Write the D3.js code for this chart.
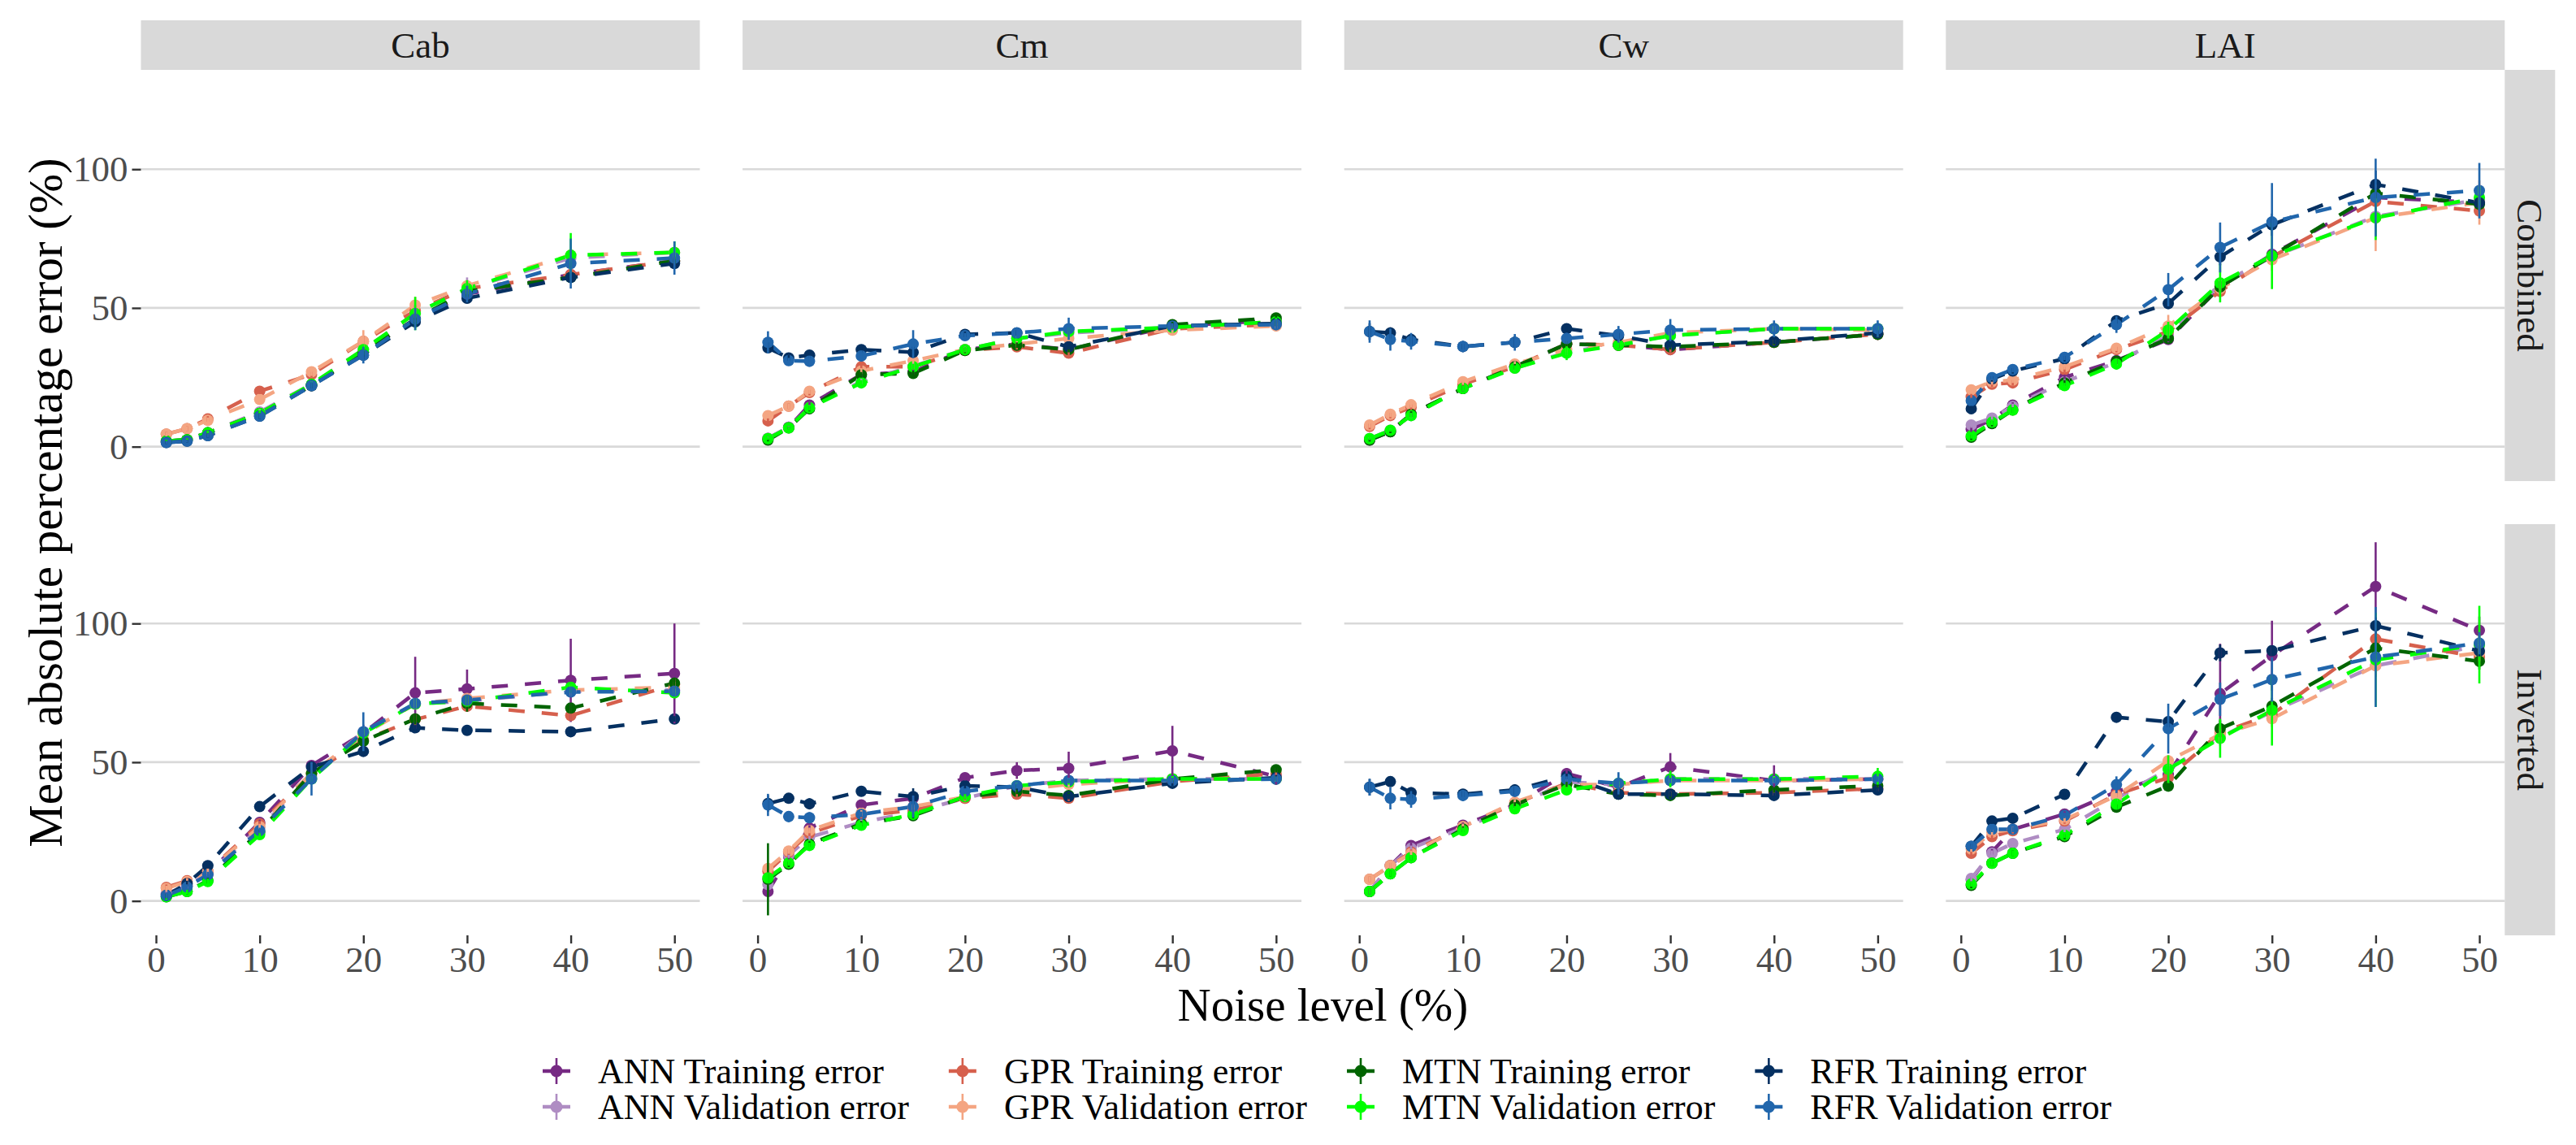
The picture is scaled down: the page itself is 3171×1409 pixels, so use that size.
<!DOCTYPE html>
<html>
<head>
<meta charset="utf-8">
<script src="https://cdn.jsdelivr.net/npm/d3@7"></script>
<style>
  body { margin: 0; background: #ffffff; }
  text { font-family: "Liberation Serif", "Times New Roman", serif; }
</style>
</head>
<body>
<div id="chart"></div>
<script>
// ---- Data ----
var noiseLevels = [1, 3, 5, 10, 15, 20, 25, 30, 40, 50];
var variables = ["Cab", "Cm", "Cw", "LAI"];
var modes = ["Combined", "Inverted"];
var seriesNames = [
  "ANN Training error", "ANN Validation error",
  "GPR Training error", "GPR Validation error",
  "MTN Training error", "MTN Validation error",
  "RFR Training error", "RFR Validation error"
];
var seriesColors = ["#762A83", "#AF8DC3", "#D6604D", "#F4A582",
                    "#006400", "#00FF00", "#053061", "#2166AC"];
var xTicks = [0, 10, 20, 30, 40, 50];
var yTicks = [0, 50, 100];

// rows follow seriesNames order, columns follow noiseLevels
var cabCombinedMean = [
  [2, 2.5, 5, 12, 22, 34, 46, 55, 62, 67],
  [2, 2.5, 5, 12.5, 22.5, 35, 48, 57, 68, 70],
  [4.5, 6.5, 10, 20, 26, 38, 49, 57, 62, 67],
  [4.5, 6.5, 9.5, 17, 27, 38, 51, 58, 69, 70],
  [2, 2.5, 5, 12, 22, 34, 46, 56, 61, 67],
  [2, 2.5, 5, 12, 22.5, 35, 48, 57, 69, 70],
  [1.5, 2, 4, 11, 22, 33, 45, 53.5, 61, 66],
  [1.5, 2, 4, 11, 22, 33, 46, 55, 66, 68]
];
var cabCombinedSd = [
  [0.5, 0.5, 0.8, 1, 1, 1.5, 1.5, 2, 1.5, 1.5],
  [0.5, 0.5, 0.8, 1, 1, 1.5, 3, 4, 2, 2],
  [0.8, 0.8, 1, 1, 1, 2, 2, 2, 1.5, 1.5],
  [0.8, 0.8, 1, 1.5, 1.5, 4, 3, 2, 2, 2],
  [0.5, 0.5, 0.8, 1, 1, 1.5, 2, 2, 1.5, 1.5],
  [0.5, 0.5, 0.8, 1, 1, 2, 6, 3, 8, 4],
  [0.5, 0.5, 0.8, 1, 1, 1.5, 1.5, 1.5, 1.5, 1.5],
  [0.5, 0.5, 0.8, 1, 1.5, 3, 4, 3, 9, 6]
];

var cmCombinedMean = [
  [3, 7, 15, 26, 27, 35, 37, 35, 43.5, 45.5],
  [3, 7, 14, 23.5, 29, 35, 39, 41, 43, 45],
  [9.3, 14.6, 19.5, 28.8, 28.8, 34.7, 36, 33.7, 42.5, 44],
  [11.2, 14.6, 20, 27.3, 31, 35, 37, 39, 42, 43.5],
  [2.4, 6.8, 13.7, 25.9, 26.4, 34.7, 36.6, 35, 44, 46.4],
  [2.9, 6.8, 14, 23, 28.8, 35, 39, 41.5, 43, 45],
  [35.6, 32, 33, 35, 34, 40.5, 41, 36, 43.5, 44.4],
  [37.6, 31, 30.8, 32.7, 37, 40, 41, 42.5, 43.5, 44]
];
var cmCombinedSd = [
  [0.5, 0.5, 1, 1, 1, 1, 1, 1, 1, 1],
  [0.5, 0.5, 1, 1, 1, 1, 1, 1, 1, 1],
  [1, 1, 1, 1, 1, 1, 1, 1, 1, 1],
  [1, 1, 1, 1, 1, 1, 1, 1, 1, 1],
  [0.5, 0.5, 1, 1, 1, 1, 1, 1, 1, 1],
  [0.5, 0.5, 1, 1, 1, 1, 1, 1.5, 1, 1.5],
  [2, 1, 1, 1, 2, 1, 1, 1, 1, 1],
  [4, 1, 2, 2, 5, 1, 2, 4, 1, 2]
];

var cwCombinedMean = [
  [2.4, 5.4, 11.7, 21, 28.8, 37, 36.6, 35, 37.6, 40.5],
  [2.9, 5.9, 11.2, 21, 28.3, 34, 37, 40, 42.5, 42.5],
  [7.3, 11.2, 14.2, 22.5, 28.8, 37, 36.6, 35, 37.6, 40.5],
  [7.8, 11.7, 15.1, 23.4, 29.8, 35, 37.6, 41, 42.5, 42],
  [2.4, 5.4, 11.7, 21, 28.8, 37, 36.6, 36, 37.6, 40.5],
  [2.9, 5.9, 11.2, 21, 28.3, 33.7, 36.6, 40, 42.5, 42.5],
  [41.5, 41, 38.6, 36.1, 37.6, 42.5, 40, 36.6, 38, 41],
  [41.5, 38.6, 38, 36.1, 37.6, 39, 40.5, 42, 42.5, 42.5]
];
var cwCombinedSd = [
  [0.5, 0.5, 1, 1, 1, 1, 1, 1, 1, 1],
  [0.5, 0.5, 1, 1, 1, 1, 1, 1, 1, 1],
  [1, 1, 1, 1, 1, 1, 1, 1, 1, 1],
  [1, 1, 1, 1, 1, 1, 1, 1, 1, 1],
  [0.5, 0.5, 1, 1, 1, 1, 1, 1, 1, 1],
  [0.5, 0.5, 1, 1, 1, 2.5, 1, 1, 1, 1],
  [3, 2, 2, 1, 2, 1, 1, 1, 1, 1],
  [4, 4, 3, 2, 3, 2, 3, 4, 3, 3]
];

var laiCombinedMean = [
  [6.3, 9.8, 15, 25, 31, 38.6, 57.6, 69.3, 89.8, 88],
  [7.8, 10.3, 14.5, 23.4, 30.3, 40, 58.6, 68.4, 83, 89],
  [18, 22.5, 23, 27.8, 35, 41.5, 56, 68.4, 88.4, 85],
  [20.5, 23.4, 24, 28.8, 35.5, 43.5, 57, 67.4, 82.5, 88],
  [3.4, 8.3, 13.2, 23, 30.8, 39, 57.6, 68.8, 91.3, 87.4],
  [3.9, 8.8, 13.2, 22, 29.8, 42, 59, 68.8, 82.5, 89.8],
  [13.7, 24.4, 27.3, 31.7, 45.4, 51.6, 68.4, 80, 94.5, 87.9],
  [16.6, 24.9, 27.8, 32.2, 44, 56.6, 71.8, 81, 89.8, 92.3]
];
var laiCombinedSd = [
  [1, 1, 1, 1, 1, 1, 2, 2, 2, 2],
  [1, 1, 1, 1, 1, 1, 2, 3, 3, 2],
  [1, 1, 1, 1, 1, 1, 2, 2, 2, 2],
  [1, 1, 1, 1, 1, 4, 3, 4, 12, 8],
  [1, 1, 1, 1, 1, 1, 2, 2, 2, 2],
  [1, 1, 1, 1, 2, 3, 7, 12, 8, 4],
  [1, 1, 1, 1, 1, 2, 3, 4, 5, 3],
  [1, 1, 1, 1, 3, 6, 9, 14, 14, 10]
];

var cabInvertedMean = [
  [2.5, 5.4, 9.8, 28.3, 48.8, 60.5, 75, 76.4, 79.5, 82],
  [2.5, 5.4, 9.8, 26.3, 45, 61, 71, 72, 75.6, 76],
  [4.9, 7.3, 10.7, 27.8, 45.9, 58, 65.4, 70.2, 66.8, 78],
  [4.5, 7, 10.7, 26.8, 46, 60, 71, 73, 76, 77],
  [1.5, 3.4, 7.3, 24.9, 46, 57.6, 65.6, 71.2, 69.5, 78.5],
  [1.5, 3.4, 7, 23.9, 44, 60.5, 71, 72, 77, 75],
  [2, 6.3, 12.7, 34, 48.3, 53.9, 62.4, 61.5, 61, 65.6],
  [2, 5, 9.5, 25.4, 44, 61, 71.2, 72.4, 75.3, 75.6]
];
var cabInvertedSd = [
  [1, 1, 1, 1, 1, 3, 13, 7, 15, 18],
  [1, 1, 1, 1, 1, 2, 2, 2, 2, 2],
  [1, 1, 1, 1, 1, 2, 2, 2, 2, 2],
  [1, 1, 1, 1, 1, 2, 2, 2, 2, 2],
  [1, 1, 1, 1, 1, 2, 2, 3, 2, 2],
  [1, 1, 1, 1, 1, 2, 2, 2, 2, 2],
  [1, 1, 1, 1, 1, 1, 1, 1, 1, 1],
  [1, 1, 1, 1, 6, 7, 2, 2, 2, 2]
];

var cmInvertedMean = [
  [3.4, 16, 26.3, 34.6, 37, 44.4, 47, 47.8, 54.1, 44.9],
  [5.9, 16.5, 23, 28.3, 32, 37, 41.5, 43.4, 44, 44],
  [10.7, 17.6, 24.4, 30.7, 32.7, 37, 38.5, 37, 43, 45.9],
  [11.7, 18, 25.4, 31.7, 34, 37.5, 40, 42, 44, 44],
  [7.8, 13.2, 20.5, 27.8, 30.7, 37.6, 39.5, 38, 43.9, 47.3],
  [8.3, 13.7, 20, 27.3, 31.2, 37.6, 41.5, 42.9, 44, 44],
  [35.1, 37, 35, 39.5, 37.6, 41.5, 41, 37.6, 42.4, 44.4],
  [34.6, 30.4, 30, 31.2, 34, 39.5, 41.5, 43.4, 43.4, 43.9]
];
var cmInvertedSd = [
  [2, 1, 1, 1, 1, 1, 3, 6, 9, 3],
  [1, 1, 1, 1, 1, 1, 1, 1, 1, 1],
  [2, 1, 1, 1, 1, 1, 1, 1, 1, 1],
  [2, 1, 1, 1, 1, 1, 1, 1, 1, 1],
  [13, 1, 1, 1, 1, 1, 1, 1, 1, 1],
  [2, 1, 1, 1, 1, 1, 1, 1, 1, 1],
  [3, 1, 2, 1, 3, 1, 1, 1, 1, 1],
  [4, 2, 2, 1, 4, 1, 1, 1, 1, 1]
];

var cwInvertedMean = [
  [3.4, 12.7, 20, 27.3, 34.6, 45.9, 41, 48.3, 43.4, 43.9],
  [3.4, 12.7, 19, 26.3, 34, 42.9, 42, 44, 44, 44],
  [7.8, 12.7, 17.6, 26.8, 35.1, 42.4, 39, 38.5, 39, 40.5],
  [7.8, 12.7, 17.1, 26.8, 35.6, 41.9, 42, 43.4, 43.4, 43.9],
  [3.4, 9.8, 15.6, 25.9, 34.6, 42, 38.5, 38, 40, 41.5],
  [3.4, 9.8, 15.6, 25.4, 33.2, 40, 42.4, 43.9, 43.9, 44.9],
  [41, 43, 39, 38.5, 40, 44.9, 38.5, 38.5, 38, 40],
  [41, 37, 36.6, 38, 39.5, 43.9, 42.4, 43.4, 43.4, 43.9]
];
var cwInvertedSd = [
  [1, 1, 1, 1, 1, 2, 2, 5, 5.5, 2],
  [1, 1, 1, 1, 1, 1, 1, 1, 1, 1],
  [1, 1, 1, 1, 1, 1, 1, 1, 1, 1],
  [1, 1, 1, 1, 1, 1, 1, 1, 1, 1],
  [1, 1, 1, 1, 1, 1, 1, 1, 1, 1],
  [1, 1, 1, 1, 1, 1, 1, 3, 1, 3],
  [3, 1, 2, 1, 2, 1, 1, 1, 1, 1],
  [3, 4, 3, 2, 2, 1, 4, 1, 1, 1]
];

var laiInvertedMean = [
  [7.6, 17.7, 25.8, 31.3, 39.4, 45.5, 74.7, 88.4, 113.3, 97.5],
  [8.1, 17.2, 20.7, 25.8, 36.9, 47.5, 59, 68.2, 84.8, 92],
  [17.2, 23.2, 25.3, 28.8, 38.4, 44.4, 60.6, 67.2, 94.4, 87.9],
  [18.7, 24.7, 25.8, 29.3, 37.9, 50.5, 60, 65.7, 84.8, 89.4],
  [5.6, 13.6, 17.2, 23.2, 33.8, 41.4, 62.1, 70.2, 91.1, 86.4],
  [6.1, 13.6, 17.2, 23.7, 34.9, 47.5, 58.6, 68.7, 86.9, 92.4],
  [19.7, 28.8, 29.8, 38.4, 66.2, 64.6, 89.4, 90.2, 99.2, 90.1],
  [19.7, 25.8, 25.8, 30.8, 41.9, 62.1, 72.7, 79.8, 87.9, 92.9]
];
var laiInvertedSd = [
  [1, 1, 1, 1, 1, 2, 18, 12.6, 16, 5],
  [1, 1, 1, 1, 1, 2, 3, 3, 4, 3],
  [1, 1, 1, 1, 1, 2, 3, 3, 4, 3],
  [1, 1, 1, 1, 1, 2, 3, 3, 4, 3],
  [1, 1, 1, 1, 1, 2, 3, 3, 4, 3],
  [1, 1, 1, 1, 2, 5, 7, 12.7, 17, 14],
  [1, 1, 1, 1, 1, 2, 3, 2, 3, 2],
  [1, 1, 1, 1, 3, 9, 6, 8, 18, 4]
];

var panelMeans = {
  "Cab|Combined": cabCombinedMean, "Cm|Combined": cmCombinedMean,
  "Cw|Combined": cwCombinedMean, "LAI|Combined": laiCombinedMean,
  "Cab|Inverted": cabInvertedMean, "Cm|Inverted": cmInvertedMean,
  "Cw|Inverted": cwInvertedMean, "LAI|Inverted": laiInvertedMean
};
var panelSds = {
  "Cab|Combined": cabCombinedSd, "Cm|Combined": cmCombinedSd,
  "Cw|Combined": cwCombinedSd, "LAI|Combined": laiCombinedSd,
  "Cab|Inverted": cabInvertedSd, "Cm|Inverted": cmInvertedSd,
  "Cw|Inverted": cwInvertedSd, "LAI|Inverted": laiInvertedSd
};

// ---- Layout ----
var svgWidth = 3171;
var svgHeight = 1409;
var panelLeft = 173.5, panelStep = 740.6, panelWidth = 688;
var rowTops = [86, 645], panelHeight = 506;
var stripHeight = 61, stripWidth = 62;

var smallFont = 45, titleFont = 57, legendFont = 44;

var svg = d3.select("#chart")
  .append("svg")
  .attr("width", svgWidth)
  .attr("height", svgHeight);

svg.append("rect")
  .attr("width", svgWidth)
  .attr("height", svgHeight)
  .attr("fill", "#ffffff");

svg.append("defs").append("clipPath")
  .attr("id", "panel-clip")
  .append("rect")
  .attr("width", panelWidth)
  .attr("height", panelHeight);

// shared scales (fixed across facets)
var xScale = d3.scaleLinear().domain([-1.45, 52.45]).range([0, panelWidth]);
var yScale = d3.scaleLinear().domain([-12.4, 135.8]).range([panelHeight, 0]);

var lineGen = d3.line()
  .x(d => xScale(d.x))
  .y(d => yScale(d.y));

modes.forEach(function (mode, r) {
  variables.forEach(function (variable, c) {
    var key = variable + "|" + mode;
    var means = panelMeans[key];
    var sds = panelSds[key];

    var series = seriesNames.map(function (name, i) {
      return {
        name: name,
        color: seriesColors[i],
        values: noiseLevels.map((n, j) => ({ x: n, y: means[i][j], sd: sds[i][j] }))
      };
    });

    var g = svg.append("g")
      .attr("transform", `translate(${panelLeft + c * panelStep}, ${rowTops[r]})`);

    // horizontal grid lines
    g.append("g")
      .selectAll("line")
      .data(yTicks)
      .enter()
      .append("line")
      .attr("x1", 0)
      .attr("x2", panelWidth)
      .attr("y1", d => yScale(d))
      .attr("y2", d => yScale(d))
      .attr("stroke", "#d9d9d9")
      .attr("stroke-width", 2.7);

    var plot = g.append("g").attr("clip-path", "url(#panel-clip)");

    // dashed lines
    plot.selectAll("path.series")
      .data(series)
      .enter()
      .append("path")
      .attr("class", "series")
      .attr("d", d => lineGen(d.values))
      .attr("fill", "none")
      .attr("stroke", d => d.color)
      .attr("stroke-width", 4.5)
      .attr("stroke-dasharray", "20,21");

    // points
    series.forEach(function (s) {
      plot.append("g")
        .selectAll("circle")
        .data(s.values)
        .enter()
        .append("circle")
        .attr("cx", d => xScale(d.x))
        .attr("cy", d => yScale(d.y))
        .attr("r", 7)
        .attr("fill", s.color);
    });

    // error bars (mean +/- sd)
    series.forEach(function (s) {
      plot.append("g")
        .selectAll("line")
        .data(s.values)
        .enter()
        .append("line")
        .attr("x1", d => xScale(d.x))
        .attr("x2", d => xScale(d.x))
        .attr("y1", d => yScale(d.y - d.sd))
        .attr("y2", d => yScale(d.y + d.sd))
        .attr("stroke", s.color)
        .attr("stroke-width", 2.6);
    });

    // y axis on the first column
    if (c === 0) {
      var leftAxis = d3.axisLeft(yScale)
        .tickValues(yTicks)
        .tickSize(11)
        .tickPadding(5);
      var ya = g.append("g").call(leftAxis);
      ya.select(".domain").remove();
      ya.selectAll(".tick line").attr("stroke", "#333333").attr("stroke-width", 2.4);
      ya.selectAll(".tick text")
        .attr("fill", "#4d4d4d")
        .style("font-size", smallFont + "px")
        .style("font-family", "'Liberation Serif', serif");
    }

    // x axis on the bottom row
    if (r === modes.length - 1) {
      var bottomAxis = d3.axisBottom(xScale)
        .tickValues(xTicks)
        .tickSize(10)
        .tickPadding(3);
      var xa = g.append("g")
        .attr("transform", `translate(0, ${panelHeight})`)
        .call(bottomAxis);
      xa.select(".domain").remove();
      xa.selectAll(".tick line").attr("stroke", "#333333").attr("stroke-width", 2.4);
      xa.selectAll(".tick text")
        .attr("fill", "#4d4d4d")
        .style("font-size", smallFont + "px")
        .style("font-family", "'Liberation Serif', serif");
    }

    // top strip
    if (r === 0) {
      g.append("rect")
        .attr("x", 0)
        .attr("y", -stripHeight)
        .attr("width", panelWidth)
        .attr("height", stripHeight)
        .attr("fill", "#d9d9d9");
      g.append("text")
        .attr("x", panelWidth / 2)
        .attr("y", -stripHeight / 2)
        .attr("dy", "0.35em")
        .attr("text-anchor", "middle")
        .attr("fill", "#1a1a1a")
        .style("font-size", smallFont + "px")
        .text(variable);
    }

    // right strip
    if (c === variables.length - 1) {
      g.append("rect")
        .attr("x", panelWidth)
        .attr("y", 0)
        .attr("width", stripWidth)
        .attr("height", panelHeight)
        .attr("fill", "#d9d9d9");
      g.append("text")
        .attr("transform", `translate(${panelWidth + stripWidth / 2}, ${panelHeight / 2}) rotate(90)`)
        .attr("dy", "0.35em")
        .attr("text-anchor", "middle")
        .attr("fill", "#1a1a1a")
        .style("font-size", smallFont + "px")
        .text(mode);
    }
  });
});

// axis titles
var panelsRight = panelLeft + 3 * panelStep + panelWidth;
svg.append("text")
  .attr("x", (panelLeft + panelsRight) / 2)
  .attr("y", 1256)
  .attr("text-anchor", "middle")
  .attr("fill", "#000000")
  .style("font-size", titleFont + "px")
  .text("Noise level (%)");

svg.append("text")
  .attr("transform", `translate(76, ${(rowTops[0] + rowTops[1] + panelHeight) / 2}) rotate(-90)`)
  .attr("text-anchor", "middle")
  .attr("fill", "#000000")
  .style("font-size", "59px")
  .text("Mean absolute percentage error (%)");

// legend: 2 rows, filled by column
var legend = svg.append("g");
var legendRows = [1318, 1362];
var keyX = 685;
for (var col = 0; col < 4; col++) {
  var maxW = 0;
  for (var row = 0; row < 2; row++) {
    var idx = col * 2 + row;
    var ky = legendRows[row];
    legend.append("line")
      .attr("x1", keyX - 17).attr("x2", keyX + 17)
      .attr("y1", ky).attr("y2", ky)
      .attr("stroke", seriesColors[idx]).attr("stroke-width", 4.5);
    legend.append("line")
      .attr("x1", keyX).attr("x2", keyX)
      .attr("y1", ky - 16).attr("y2", ky + 16)
      .attr("stroke", seriesColors[idx]).attr("stroke-width", 2.6);
    legend.append("circle")
      .attr("cx", keyX).attr("cy", ky).attr("r", 7.5)
      .attr("fill", seriesColors[idx]);
    var t = legend.append("text")
      .attr("x", keyX + 51)
      .attr("y", ky)
      .attr("dy", "0.35em")
      .attr("fill", "#000000")
      .style("font-size", legendFont + "px")
      .text(seriesNames[idx]);
    maxW = Math.max(maxW, t.node().getComputedTextLength());
  }
  keyX = keyX + 51 + maxW + 49 + 17;
}
</script>
</body>
</html>
